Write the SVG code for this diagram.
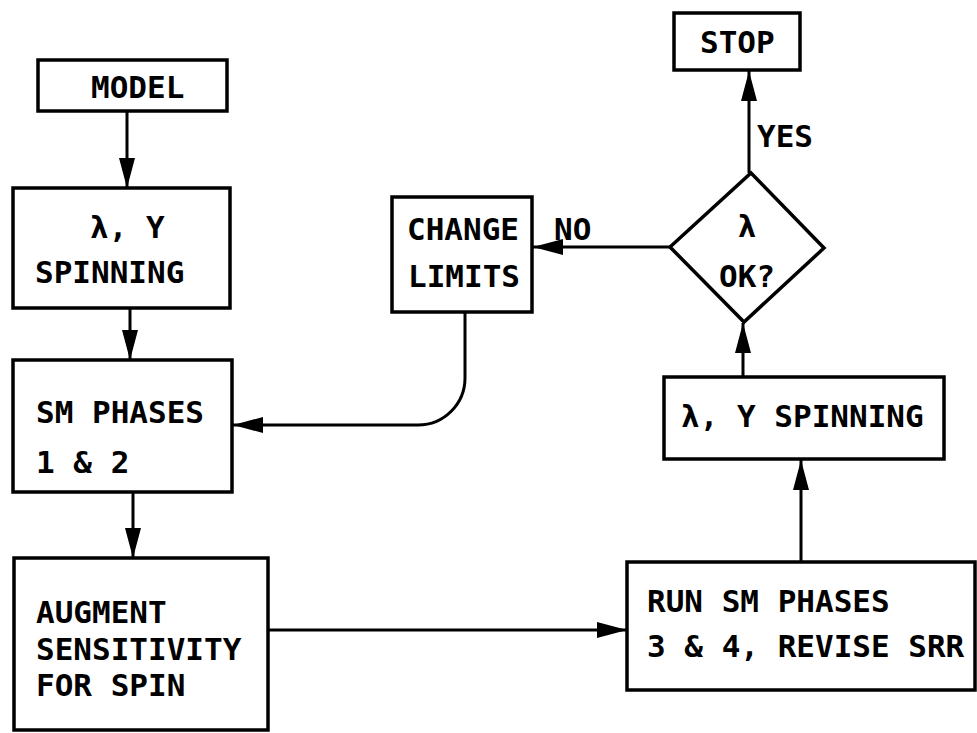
<svg xmlns="http://www.w3.org/2000/svg" width="977" height="733" viewBox="0 0 977 733">
<style>
.box{fill:#fff;stroke:#000;stroke-width:3.5;stroke-linejoin:miter}
.t{font-family:"DejaVu Sans Mono","Liberation Mono",monospace;font-weight:bold;font-size:31px;fill:#000}
.c{fill:none;stroke:#000;stroke-width:3}
</style>
<defs>
<marker id="ah" viewBox="0 0 30 16" refX="30" refY="8" markerWidth="30" markerHeight="16" orient="auto" markerUnits="userSpaceOnUse">
<path d="M0,0 L30,8 L0,16 z" fill="#000"/>
</marker>
</defs>
<rect width="977" height="733" fill="#fff"/>
<g id="connectors">
<path class="c" d="M127,111 V188" marker-end="url(#ah)"/>
<path class="c" d="M130,308 V360" marker-end="url(#ah)"/>
<path class="c" d="M133,492 V558" marker-end="url(#ah)"/>
<path class="c" d="M268,630 H627" marker-end="url(#ah)"/>
<path class="c" d="M801,562 V460" marker-end="url(#ah)"/>
<path class="c" d="M743,377 V323" marker-end="url(#ah)"/>
<path class="c" d="M749,173 V71" marker-end="url(#ah)"/>
<path class="c" d="M670,247 H533" marker-end="url(#ah)"/>
<path class="c" d="M465,312 V378 A47,47 0 0 1 418,425 H233" marker-end="url(#ah)"/>
</g>
<g id="model">
<rect class="box" x="38" y="60" width="189" height="51"/>
<text class="t" x="91" y="98">MODEL</text>
</g>
<g id="spin1">
<rect class="box" x="13" y="188" width="217" height="120"/>
<text class="t" x="90" y="238">λ, Y</text>
<text class="t" x="35" y="283">SPINNING</text>
</g>
<g id="smphases">
<rect class="box" x="13" y="360" width="219" height="132"/>
<text class="t" x="36" y="423">SM PHASES</text>
<text class="t" x="36" y="473">1 &amp; 2</text>
</g>
<g id="augment">
<rect class="box" x="14" y="558" width="254" height="172"/>
<text class="t" x="36" y="623">AUGMENT</text>
<text class="t" x="36" y="660">SENSITIVITY</text>
<text class="t" x="36" y="696">FOR SPIN</text>
</g>
<g id="change">
<rect class="box" x="392" y="197" width="140" height="115"/>
<text class="t" x="407" y="240">CHANGE</text>
<text class="t" x="408" y="287">LIMITS</text>
</g>
<g id="decision">
<polygon class="box" points="751,173 824,248 744,322 670,247"/>
<text class="t" x="747" y="237" text-anchor="middle">λ</text>
<text class="t" x="747" y="287" text-anchor="middle">OK?</text>
</g>
<g id="stop">
<rect class="box" x="674" y="13" width="126" height="57"/>
<text class="t" x="700" y="53">STOP</text>
</g>
<g id="labels">
<text class="t" x="757" y="147">YES</text>
<text class="t" x="554" y="240">NO</text>
</g>
<g id="spin2">
<rect class="box" x="664" y="377" width="280" height="82"/>
<text class="t" x="681" y="427">λ, Y SPINNING</text>
</g>
<g id="run">
<rect class="box" x="627" y="562" width="348" height="128"/>
<text class="t" x="647" y="612">RUN SM PHASES</text>
<text class="t" x="647" y="657">3 &amp; 4, REVISE SRR</text>
</g>
</svg>
